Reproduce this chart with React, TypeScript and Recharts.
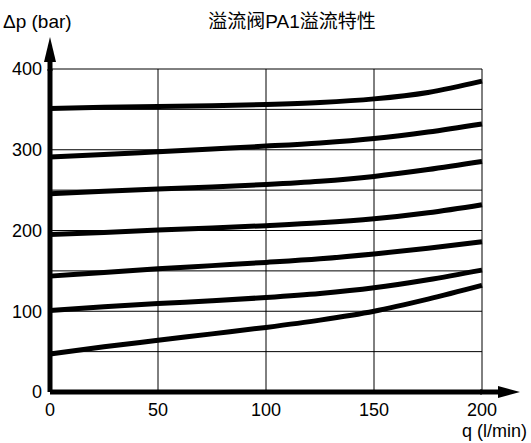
import React from 'react';
import { LineChart, Line, XAxis, YAxis, ReferenceLine } from 'recharts';

// flow q (l/min)
const flow = [0, 25, 50, 75, 100, 125, 150, 175, 200];

// pressure drop (bar), one curve per setting
const curve350 = [351, 352.5, 353.5, 354.5, 356, 358.5, 363, 371, 385];
const curve290 = [291, 294, 297.5, 301, 304.5, 308.5, 314, 322, 332];
const curve245 = [245.5, 248.5, 251.5, 254, 257, 261, 267, 275.5, 285.5];
const curve195 = [195, 197.5, 200.5, 203, 206, 209.5, 214.5, 222, 232];
const curve145 = [143.5, 148, 152.5, 156.5, 160.5, 165, 171, 178, 186];
const curve100 = [101, 105.5, 109.5, 113, 117, 122, 129, 139, 151];
const curve47 = [47, 56, 64, 72, 80, 89, 100, 115, 132];

const curves = [curve350, curve290, curve245, curve195, curve145, curve100, curve47];

const xTicks = [0, 50, 100, 150, 200];
const yTicks = [0, 100, 200, 300, 400];
const hGrid = [50, 100, 150, 200, 250, 300, 350, 400];
const vGrid = [50, 100, 150, 200];

const data = flow.map((q, i) => {
    const row: Record<string, number> = { q };
    curves.forEach((c, k) => { row[`c${k}`] = c[i]; });
    return row;
});

const font = '"Liberation Sans", Arial, "Noto Sans CJK SC", sans-serif';

const App: React.FC = () => {
    return (
        <div style={{ position: 'absolute', left: 0, top: 0, width: 531, height: 443, background: '#fff' }}>
            <LineChart width={531} height={443} data={data} margin={{ top: 69, right: 49, bottom: 0, left: 0 }}>
                <XAxis
                    dataKey="q"
                    type="number"
                    domain={[0, 200]}
                    ticks={xTicks}
                    height={51}
                    axisLine={{ stroke: '#000', strokeWidth: 5 }}
                    tickLine={false}
                    tickSize={0}
                    tickMargin={11}
                    tick={{ fill: '#000', fontSize: 18, fontFamily: font }}
                />
                <YAxis
                    type="number"
                    domain={[0, 400]}
                    ticks={yTicks}
                    width={50}
                    axisLine={{ stroke: '#000', strokeWidth: 5 }}
                    tickLine={false}
                    tickSize={0}
                    tickMargin={8}
                    tick={{ fill: '#000', fontSize: 18, fontFamily: font }}
                />
                {hGrid.map((v) => (
                    <ReferenceLine key={`h${v}`} y={v} stroke="#000" strokeWidth={1} />
                ))}
                {vGrid.map((v) => (
                    <ReferenceLine key={`v${v}`} x={v} stroke="#000" strokeWidth={1} />
                ))}
                {curves.map((_, k) => (
                    <Line
                        key={k}
                        type="monotone"
                        dataKey={`c${k}`}
                        stroke="#000"
                        strokeWidth={5}
                        dot={false}
                        activeDot={false}
                        isAnimationActive={false}
                    />
                ))}
            </LineChart>
            <svg
                width={531}
                height={443}
                style={{ position: 'absolute', left: 0, top: 0, pointerEvents: 'none' }}
            >
                {/* axis arrows */}
                <line x1={50} y1={71} x2={50} y2={58} stroke="#000" strokeWidth={5} />
                <polygon points="50,37 44,62 56,62" fill="#000" />
                <line x1={480} y1={392} x2={502} y2={392} stroke="#000" strokeWidth={5} />
                <polygon points="520,392 498,386 498,398" fill="#000" />
                <text x={3} y={28} fontSize={19} fontFamily={font} fill="#000">Δp (bar)</text>
                <text x={292} y={28} fontSize={19} fontFamily={font} fill="#000" textAnchor="middle">溢流阀PA1溢流特性</text>
                <text x={527} y={437} fontSize={18} fontFamily={font} fill="#000" textAnchor="end">q (l/min)</text>
            </svg>
        </div>
    );
};

export default App;
